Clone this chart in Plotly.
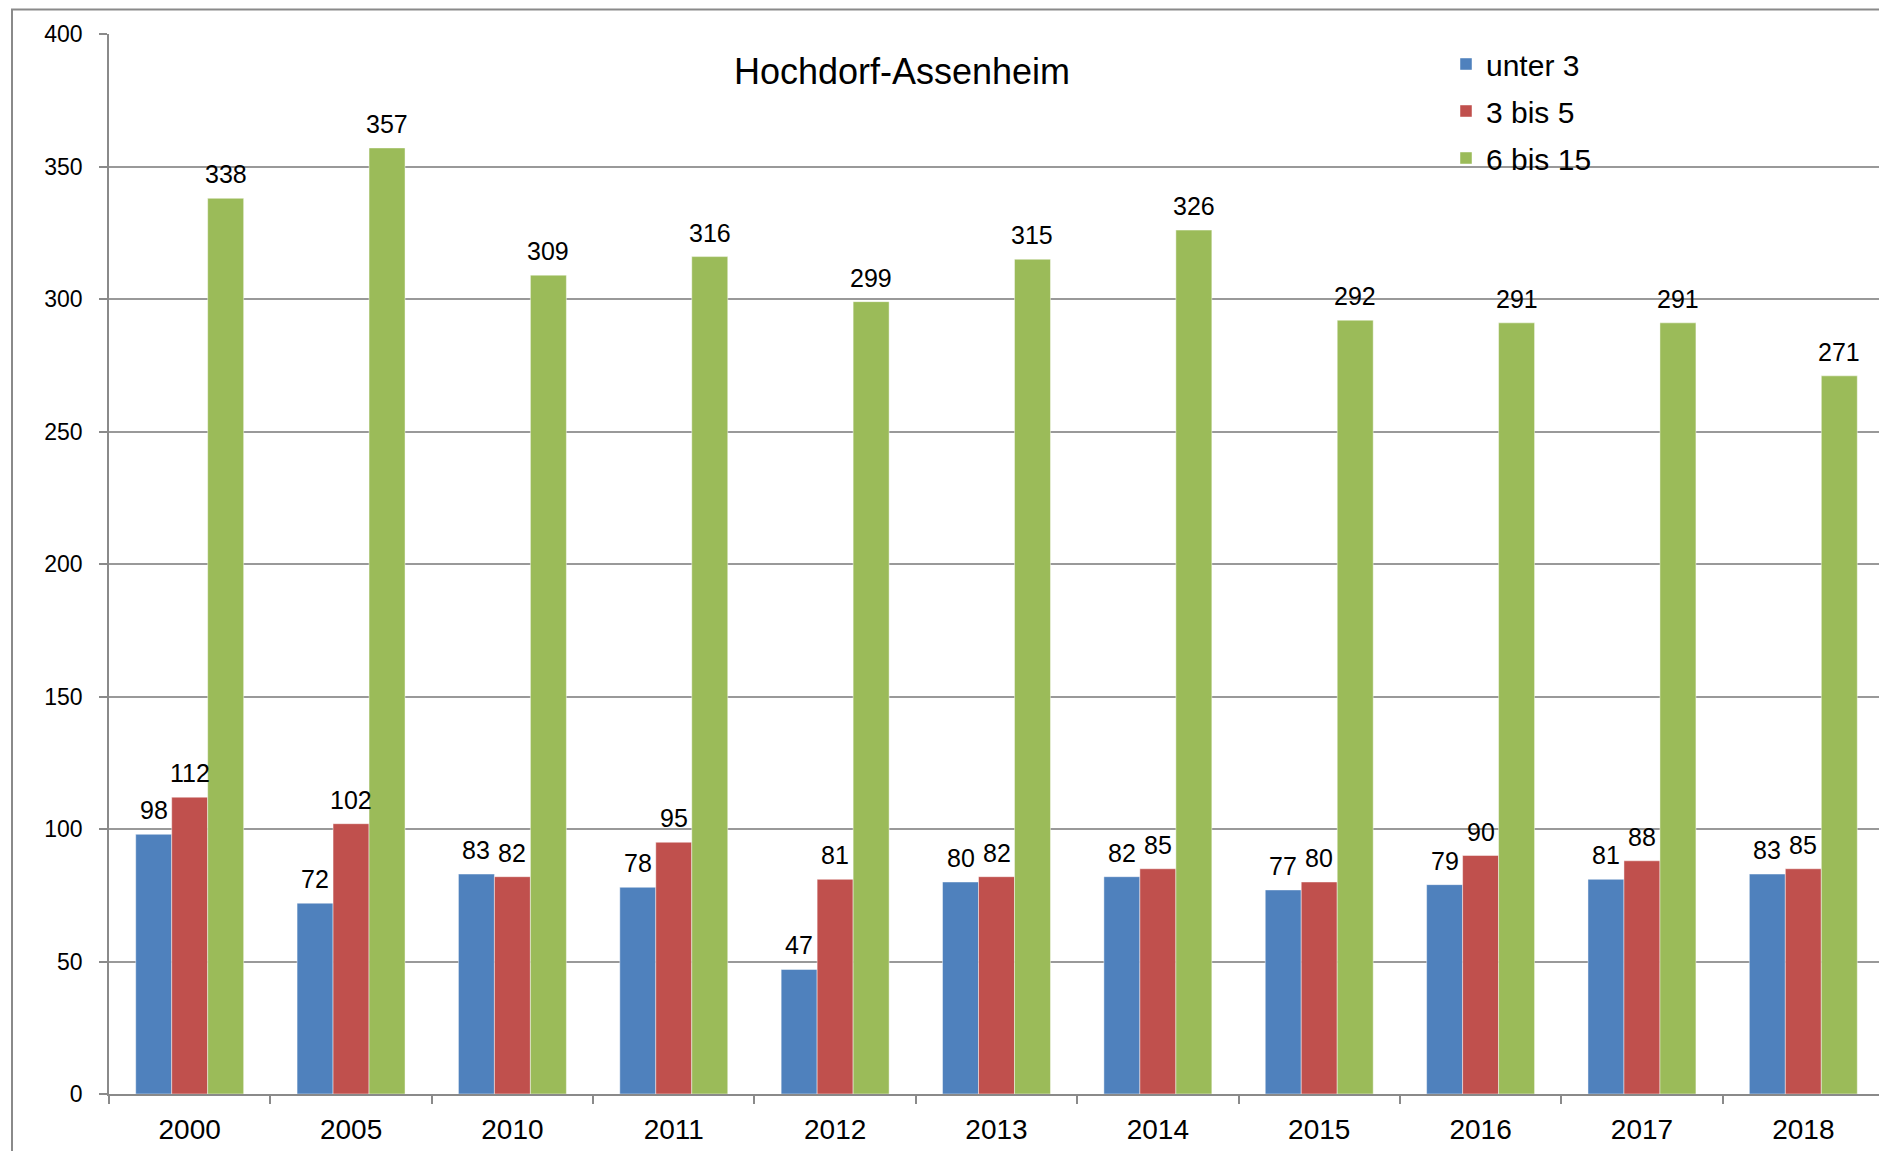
import plotly.graph_objects as go

years = ["2000", "2005", "2010", "2011", "2012", "2013", "2014", "2015", "2016", "2017", "2018"]
unter3 = [98, 72, 83, 78, 47, 80, 82, 77, 79, 81, 83]
bis5 = [112, 102, 82, 95, 81, 82, 85, 80, 90, 88, 85]
bis15 = [338, 357, 309, 316, 299, 315, 326, 292, 291, 291, 271]
series_names = ["unter 3", "3 bis 5", "6 bis 15"]
colors = ["#4F81BD", "#C0504D", "#9BBB59"]
y_ticks = [0, 50, 100, 150, 200, 250, 300, 350, 400]

FONT = "Liberation Sans, Arial, sans-serif"
OFF = 8  # default page body margin
W, H = 1887 - OFF, 1151 - OFF
L, R, T, B = 109 - OFF, 3, 34 - OFF, 1151 - 1094
pw, ph = W - L - R, H - T - B
BARGAP = 0.331

fig = go.Figure()
series = [unter3, bis5, bis15]
for i, (name, vals) in enumerate(zip(series_names, series)):
    fig.add_trace(go.Bar(
        x=years, y=vals, name=name,
        marker=dict(color=colors[i], line=dict(color="rgba(255,255,255,0.45)", width=1)),
        legendgroup=name,
    ))

# data labels: category index positions, offset to each bar of the group
bar_frac = (1 - BARGAP) / 3
annotations = []
for i, vals in enumerate(series):
    for j, v in enumerate(vals):
        annotations.append(dict(
            x=j + (i - 1) * bar_frac, y=v, xref="x", yref="y", text=str(v), showarrow=False,
            yanchor="bottom", yshift=8,
            font=dict(family=FONT, size=25, color="black"),
        ))

def px_to_paper_x(px):  # px in screenshot coordinates
    return (px - OFF - L) / pw

def px_to_paper_y(py):
    return (H - B - (py - OFF)) / ph

fig.add_shape(type="rect", xref="paper", yref="paper",
              x0=px_to_paper_x(12), x1=px_to_paper_x(1887 + 20),
              y0=px_to_paper_y(1151 + 20), y1=px_to_paper_y(9.5),
              line=dict(color="#8a8a8a", width=2), fillcolor="rgba(0,0,0,0)", layer="below")

fig.update_layout(
    width=W, height=H,
    margin=dict(l=L, r=R, t=T, b=B, pad=0),
    paper_bgcolor="white", plot_bgcolor="white",
    barmode="group", bargap=BARGAP, bargroupgap=0,
    font=dict(family=FONT, color="black"),
    title=dict(text="Hochdorf-Assenheim", x=(902 - OFF) / W, xref="container", xanchor="center",
               y=1 - (71 - OFF) / H, yref="container", yanchor="middle",
               font=dict(family=FONT, size=36, color="black")),
    legend=dict(x=px_to_paper_x(1446), y=px_to_paper_y(38), xanchor="left", yanchor="top",
                xref="paper", yref="paper",
                font=dict(family=FONT, size=30, color="black"),
                bgcolor="rgba(0,0,0,0)", traceorder="grouped", tracegroupgap=5),
    annotations=annotations,
    xaxis=dict(type="category", range=[-0.5, len(years) - 0.5], showline=True,
               linecolor="#8a8a8a", linewidth=1.5,
               ticks="outside", ticklen=8, tickcolor="#8a8a8a", tickwidth=1.5,
               tickson="boundaries", showgrid=False, tickangle=0,
               tickfont=dict(family=FONT, size=28, color="black"), ticklabelstandoff=10),
    yaxis=dict(range=[0, 400], tickvals=y_ticks, showline=True, linecolor="#8a8a8a", linewidth=1.5,
               ticks="outside", ticklen=8, tickcolor="#8a8a8a", tickwidth=1.5,
               showgrid=True, gridcolor="#999999", gridwidth=1.5, zeroline=False,
               tickfont=dict(family=FONT, size=23, color="black"), ticklabelstandoff=12),
)

fig.write_html("out.html")
